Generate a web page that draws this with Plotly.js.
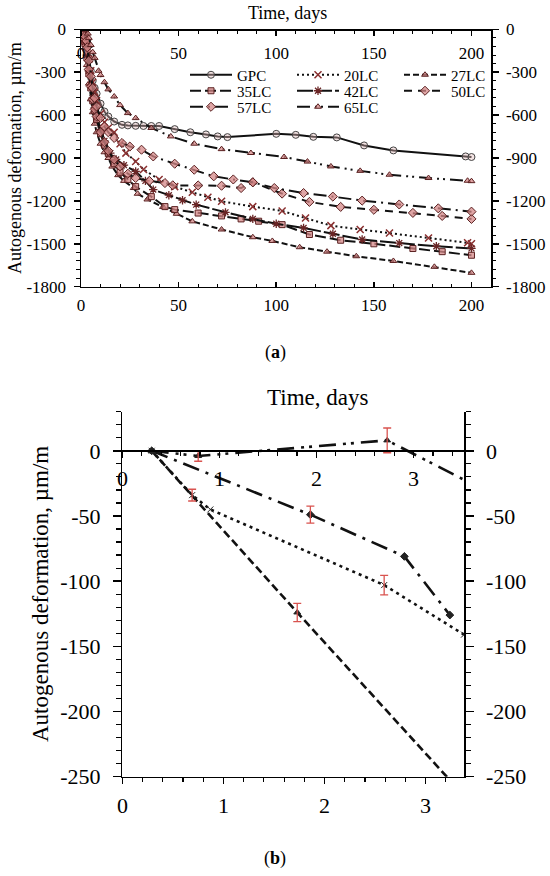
<!DOCTYPE html>
<html><head><meta charset="utf-8">
<script src="https://cdn.plot.ly/plotly-3.0.1.min.js"></script>
<style>html,body{margin:0;padding:0;background:#fff}#chart{width:550px;height:876px}</style>
</head><body><div id="chart"></div>
<script>
// ---------- Panel (a): autogenous deformation over 200 days ----------
const seriesNames = ['GPC','20LC','27LC','35LC','42LC','50LC','57LC','65LC'];

const tGPC = [0,1,2,3,4,5,6,7,8,10,12,14,17,21,24,28,32,36,40,48,56,64,70,75,100,110,119,131,145,160,197,200];
const vGPC = [0,-20,-80,-110,-200,-290,-360,-410,-450,-520,-575,-610,-645,-668,-672,-675,-676,-676,-676,-698,-720,-735,-749,-754,-731,-738,-752,-756,-812,-847,-889,-893];

const t20LC = [0,1,2,3,4,5,6,7,8,10,12,14,17,20,23,28,32,40,48,57,65,72,88,103,115,128,143,158,178,198,200];
const v20LC = [0,-30,-80,-135,-210,-290,-370,-440,-500,-590,-650,-690,-720,-800,-866,-924,-980,-1050,-1100,-1140,-1175,-1203,-1240,-1270,-1320,-1373,-1400,-1424,-1460,-1493,-1500];

const t27LC = [0,1,2,3,4,5,6,7,8,10,12,14,16,19,22,27,29,34,42,49,57,72,88,98,112,126,141,160,181,200];
const v27LC = [0,-45,-130,-250,-380,-490,-580,-660,-720,-800,-860,-900,-960,-1020,-1060,-1110,-1150,-1190,-1242,-1290,-1343,-1400,-1454,-1480,-1524,-1555,-1587,-1620,-1661,-1703];

const t35LC = [0,1,2,3,4,5,6,7,8,10,12,14,17,20,24,28,36,43,48,60,72,82,91,103,117,133,150,170,185,200];
const v35LC = [0,-30,-100,-200,-310,-410,-500,-570,-630,-730,-810,-870,-940,-1000,-1050,-1100,-1170,-1240,-1261,-1285,-1305,-1326,-1342,-1366,-1435,-1475,-1500,-1533,-1555,-1580];

const t42LC = [0,1,2,3,4,5,6,7,8,10,12,15,18,22,28,33,37,45,52,59,74,88,100,114,129,144,163,182,200];
const v42LC = [0,-25,-90,-180,-290,-390,-480,-550,-610,-700,-780,-866,-910,-950,-994,-1060,-1121,-1160,-1195,-1226,-1280,-1326,-1360,-1389,-1430,-1470,-1495,-1517,-1532];

const t50LC = [0,1,2,3,4,5,6,7,8,10,12,14,17,20,24,28,35,43,47,60,72,82,88,103,117,133,150,170,185,200];
const v50LC = [0,-20,-70,-150,-280,-400,-490,-560,-610,-720,-790,-850,-910,-960,-1010,-1040,-1060,-1075,-1091,-1092,-1094,-1110,-1070,-1149,-1207,-1242,-1262,-1284,-1305,-1326];

const t57LC = [0,1,1.9,2.8,3.2,4,5,6,7,8,10,12,14,17,21,25,31,37,48,58,68,78,88,99,114,129,144,163,183,200];
const v57LC = [0,-10,-49,-81,-126,-220,-330,-410,-480,-540,-620,-680,-720,-760,-795,-820,-842,-889,-940,-982,-1028,-1050,-1070,-1110,-1145,-1170,-1198,-1225,-1252,-1275];

const t65LC = [0,1,2,2.7,3.5,4,5,6,7,9,10,12,14,17,20,24,28,36,46,58,72,87,104,116,128,143,158,178,198,200];
const v65LC = [0,-4,2,8,-30,-60,-110,-160,-200,-290,-320,-370,-420,-470,-530,-586,-621,-690,-749,-800,-838,-865,-893,-925,-959,-990,-1017,-1040,-1059,-1062];

const aXTicks = [0,50,100,150,200];
const aXTickText = ['0','50','100','150','200'];
const aYTicks = [0,-300,-600,-900,-1200,-1500,-1800];
const aYTickText = ['0','-300','-600','-900','-1200','-1500','-1800'];

// ---------- Panel (b): first 3 days ----------
const tB27 = [0.29,1.73,3.35];
const vB27 = [0,-124,-262];
const tB20 = [0.29,0.69,0.87,2.59,3.38];
const vB20 = [0,-34,-45,-103,-141];
const tB57 = [0.29,1.86,2.79,3.24];
const vB57 = [0,-49,-81,-126];
const tB65 = [0.29,0.75,2.62,3.5];
const vB65 = [0,-4,8,-27];
const errT = [0.69,2.59,1.73,1.86,0.75,2.62];
const errV = [-34,-103,-124,-49,-4,8];
const errS = [4.5,7.5,7,6.5,4,9.5];

const bXTicks = [0,1,2,3];
const bXTickText = ['0','1','2','3'];
const bYTicks = [0,-50,-100,-150,-200,-250];
const bYTickText = ['0','-50','-100','-150','-200','-250'];

// ---------- styling ----------
const F = 'Liberation Serif, Times New Roman, serif';
const PINK = 'rgba(212,135,135,0.75)';
const DARK = '#5a2020';
const MS = 6;
const styles = {
  'GPC':  {dash:'solid', marker:{symbol:'circle', size:MS+1, color:'rgba(225,185,185,0.4)', line:{color:'#444', width:1}}, legend:'legend'},
  '20LC': {dash:'2px,3px', marker:{symbol:'x-thin-open', size:MS+1, color:'#8a3030', line:{color:'#8a3030', width:1.5}}, legend:'legend'},
  '27LC': {dash:'6px,3px', marker:{symbol:'triangle-up', size:MS, color:PINK, line:{color:DARK, width:1}}, legend:'legend'},
  '35LC': {dash:'11px,4px', marker:{symbol:'square', size:MS, color:PINK, line:{color:DARK, width:1}}, legend:'legend2'},
  '42LC': {dash:'16px,3px', marker:{symbol:'asterisk-open', size:MS+1, color:'#6a2525', line:{color:'#6a2525', width:1.3}}, legend:'legend2'},
  '50LC': {dash:'8px,6px', marker:{symbol:'diamond', size:MS+1, color:PINK, line:{color:DARK, width:1}}, legend:'legend2'},
  '57LC': {dash:'13px,5px,2px,5px', marker:{symbol:'diamond', size:MS+1, color:PINK, line:{color:DARK, width:1}}, legend:'legend3'},
  '65LC': {dash:'13px,5px,2px,4px,2px,5px', marker:{symbol:'triangle-up', size:MS, color:PINK, line:{color:DARK, width:1}}, legend:'legend3'}
};
const aData = {
  'GPC':[tGPC,vGPC],'20LC':[t20LC,v20LC],'27LC':[t27LC,v27LC],'35LC':[t35LC,v35LC],
  '42LC':[t42LC,v42LC],'50LC':[t50LC,v50LC],'57LC':[t57LC,v57LC],'65LC':[t65LC,v65LC]
};

const traces = [];
seriesNames.forEach(n => {
  const s = styles[n];
  traces.push({
    type:'scatter', mode:'lines+markers', name:n,
    x:aData[n][0], y:aData[n][1], xaxis:'x', yaxis:'y',
    line:{color:'#111', width:2, dash:s.dash}, marker:s.marker,
    legend:s.legend, hoverinfo:'skip'
  });
});

const bSeries = [
  {x:tB27, y:vB27, st:'27LC'},
  {x:tB20, y:vB20, st:'20LC'},
  {x:tB57, y:vB57, st:'57LC'},
  {x:tB65, y:vB65, st:'65LC'}
];
bSeries.forEach(b => {
  const s = styles[b.st];
  traces.push({
    type:'scatter', mode:'lines+markers', x:b.x, y:b.y, xaxis:'x3', yaxis:'y3',
    line:{color:'#111', width:2.6, dash:s.dash.replace(/(\d+)px/g,(m,p)=>Math.round(p*1.3)+'px')},
    marker:{symbol:s.marker.symbol, size:6, color:'#222', line:{color:'#222', width:1}},
    showlegend:false, cliponaxis:true, hoverinfo:'skip'
  });
});
traces.push({
  type:'scatter', mode:'markers', x:errT, y:errV, xaxis:'x3', yaxis:'y3',
  marker:{size:1, color:'rgba(0,0,0,0)'},
  error_y:{type:'data', array:errS, visible:true, color:'#d9534f', thickness:1.3, width:4},
  showlegend:false, hoverinfo:'skip'
});
// empty traces to register auxiliary axes
traces.push({type:'scatter', x:[], y:[], xaxis:'x2', yaxis:'y', showlegend:false});
traces.push({type:'scatter', x:[], y:[], xaxis:'x', yaxis:'y2', showlegend:false});
traces.push({type:'scatter', x:[], y:[], xaxis:'x4', yaxis:'y3', showlegend:false});
traces.push({type:'scatter', x:[], y:[], xaxis:'x3', yaxis:'y4', showlegend:false});

const W = 550, H = 876;
const px = v => v / W, py = v => 1 - v / H;

function axisBase(extra){
  return Object.assign({
    showline:true, linecolor:'#000', linewidth:1.5, showgrid:false, zeroline:false,
    tickcolor:'#000', tickwidth:1.5, tickmode:'array', fixedrange:true
  }, extra);
}
const fa = {family:F, size:17, color:'#000'};
const fb = {family:F, size:22, color:'#000'};
const legFont = {family:F, size:15, color:'#000'};

function leg(yc){
  return {orientation:'h', x:px(185), xanchor:'left', y:py(yc), yanchor:'middle', bgcolor:'rgba(0,0,0,0)',
    font:legFont, itemwidth:42, entrywidthmode:'pixels', entrywidth:50, tracegroupgap:0};
}
function ann(text, x, y, size, angle){
  return {text:text, xref:'paper', yref:'paper', x:px(x), y:py(y), xanchor:'center', yanchor:'middle',
    textangle:angle||0, showarrow:false, font:{family:F, size:size, color:'#000'}};
}

const layout = {
  width:W, height:H, margin:{l:0,r:0,t:0,b:0},
  paper_bgcolor:'#fff', plot_bgcolor:'rgba(0,0,0,0)',
  font:{family:F, color:'#000'},
  xaxis: axisBase({domain:[px(81),px(491)], anchor:'y', range:[0,210], tickvals:aXTicks, ticktext:aXTickText,
    ticks:'inside', ticklen:5, tickfont:fa, ticklabelstandoff:2,
    minor:{tickmode:'linear', tick0:0, dtick:10, ticks:'inside', ticklen:3, tickwidth:1, tickcolor:'#000'}}),
  xaxis2: axisBase({overlaying:'x', anchor:'free', position:py(29.3), side:'bottom', range:[0,210], tickvals:aXTicks, ticktext:aXTickText,
    ticks:'outside', ticklen:5, tickfont:fa, ticklabelstandoff:3,
    minor:{tickmode:'linear', tick0:0, dtick:10, ticks:'outside', ticklen:3, tickwidth:1, tickcolor:'#000'}}),
  yaxis: axisBase({domain:[py(286.7),py(29.3)], anchor:'x', range:[-1800,0], tickvals:aYTicks, ticktext:aYTickText,
    ticks:'outside', ticklen:6, tickfont:fa, ticklabelstandoff:4,
    minor:{tickmode:'linear', tick0:0, dtick:60, ticks:'outside', ticklen:3.5, tickwidth:1, tickcolor:'#000'}}),
  yaxis2: axisBase({overlaying:'y', anchor:'x', side:'right', range:[-1800,0], tickvals:aYTicks, ticktext:aYTickText,
    ticks:'outside', ticklen:6, tickfont:fa, ticklabelstandoff:4,
    minor:{tickmode:'linear', tick0:0, dtick:60, ticks:'outside', ticklen:3.5, tickwidth:1, tickcolor:'#000'}}),
  xaxis3: axisBase({domain:[px(122.4),px(464)], anchor:'y3', range:[0,3.38], tickvals:bXTicks, ticktext:bXTickText,
    ticks:'outside', ticklen:6, tickfont:fb, ticklabelstandoff:2,
    minor:{tickmode:'linear', tick0:0, dtick:0.2, ticks:'outside', ticklen:4, tickwidth:1.2, tickcolor:'#000'}}),
  xaxis4: axisBase({overlaying:'x3', anchor:'free', position:py(450), side:'bottom', range:[0,3.52], tickvals:bXTicks, ticktext:bXTickText,
    ticks:'outside', ticklen:6, tickfont:fb, ticklabelstandoff:2,
    minor:{tickmode:'linear', tick0:0, dtick:0.2, ticks:'outside', ticklen:4, tickwidth:1.2, tickcolor:'#000'}}),
  yaxis3: axisBase({domain:[py(776.7),py(411.7)], anchor:'x3', range:[-250,30], tickvals:bYTicks, ticktext:bYTickText,
    ticks:'outside', ticklen:8, tickfont:fb, ticklabelstandoff:8,
    minor:{tickmode:'linear', tick0:0, dtick:10, ticks:'outside', ticklen:5, tickwidth:1.2, tickcolor:'#000'}}),
  yaxis4: axisBase({overlaying:'y3', anchor:'x3', side:'right', range:[-250,30], tickvals:bYTicks, ticktext:bYTickText,
    ticks:'outside', ticklen:8, tickfont:fb, ticklabelstandoff:8,
    minor:{tickmode:'linear', tick0:0, dtick:10, ticks:'outside', ticklen:5, tickwidth:1.2, tickcolor:'#000'}}),
  legend: leg(75),
  legend2: leg(91),
  legend3: leg(107),
  annotations: [
    ann('Time, days', 287, 13, 18),
    ann('Autogenous deformation, µm/m', 15, 158, 18, -90),
    ann('(<b>a</b>)', 275, 352, 18),
    ann('Time, days', 317, 397, 23),
    ann('Autogenous deformation, µm/m', 40, 594, 23, -90),
    ann('(<b>b</b>)', 275, 858, 18)
  ]
};

Plotly.newPlot('chart', traces, layout, {displayModeBar:false, staticPlot:true});
</script></body></html>
